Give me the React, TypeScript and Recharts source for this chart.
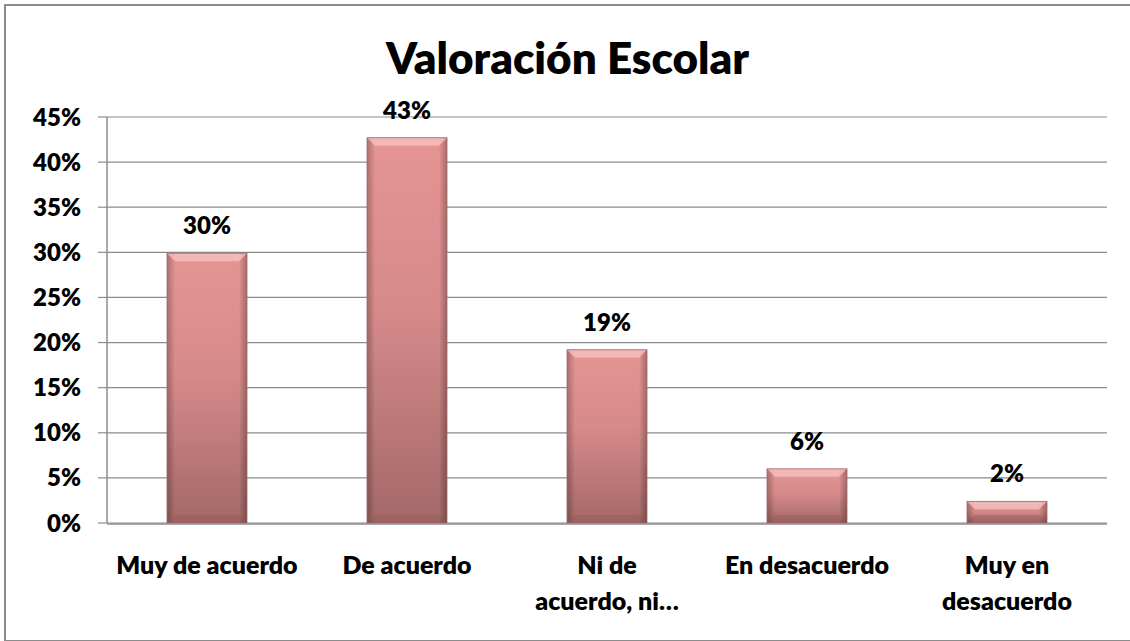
import { BarChart, Bar, XAxis, YAxis, CartesianGrid, LabelList } from 'recharts';

const categories = ['Muy de acuerdo', 'De acuerdo', 'Ni de acuerdo, ni en desacuerdo', 'En desacuerdo', 'Muy en desacuerdo'];
const tickLines = [['Muy de acuerdo'], ['De acuerdo'], ['Ni de', 'acuerdo, ni…'], ['En desacuerdo'], ['Muy en', 'desacuerdo']];
const values = [29.9, 42.7, 19.2, 6.0, 2.4];
const yTicks = [0, 5, 10, 15, 20, 25, 30, 35, 40, 45];
const edgeTicks = [0, 1, 2, 3, 4, 5];

const data = categories.map((name, i) => ({ name, idx: i, value: values[i] }));

const FONT = 'Lato, "Open Sans", sans-serif';
const GRID = '#8c8c8c';

const CategoryTick = (props: any) => {
  const { x, y, payload } = props;
  const lines = tickLines[payload.index] ?? [payload.value];
  return (
    <g>
      {lines.map((line: string, i: number) => (
        <text
          key={i}
          x={x}
          y={y + 51 + i * 36}
          textAnchor="middle"
          fill="#000"
          fontFamily={FONT}
          fontWeight={800}
          fontSize={25}
        >
          {line}
        </text>
      ))}
    </g>
  );
};

const BevelBar = (props: any) => {
  const { x, y, width, height, index } = props;
  if (!height || height <= 0) return null;
  const b = Math.min(8, height / 2);
  const vId = `vg-${index}`;
  const hId = `hg-${index}`;
  return (
    <g>
      <defs>
        <linearGradient id={vId} x1="0" y1="0" x2="0" y2="1">
          <stop offset="0%" stopColor="#e69494" />
          <stop offset="45%" stopColor="#d68a8a" />
          <stop offset="100%" stopColor="#a46868" />
        </linearGradient>
        <linearGradient id={hId} x1="0" y1="0" x2="1" y2="0">
          <stop offset="0%" stopColor="#000" stopOpacity={0.25} />
          <stop offset="10%" stopColor="#000" stopOpacity={0} />
          <stop offset="90%" stopColor="#000" stopOpacity={0} />
          <stop offset="100%" stopColor="#000" stopOpacity={0.28} />
        </linearGradient>
      </defs>
      <rect x={x} y={y} width={width} height={height} fill={`url(#${vId})`} />
      <rect x={x} y={y} width={width} height={height} fill={`url(#${hId})`} />
      <polygon
        points={`${x},${y} ${x + width},${y} ${x + width - b},${y + b} ${x + b},${y + b}`}
        fill="#f7c3c3"
        opacity={0.75}
      />
      <polygon
        points={`${x},${y + height} ${x + width},${y + height} ${x + width - b},${y + height - b} ${x + b},${y + height - b}`}
        fill="#8e5656"
        opacity={0.35}
      />
      <rect x={x} y={y} width={width} height={height} fill="none" stroke="#a46666" strokeWidth={0.8} />
    </g>
  );
};

export default function App() {
  return (
    <div style={{ position: 'absolute', left: 0, top: 0, width: 1130, height: 641, background: '#fff', overflow: 'hidden' }}>
      <div
        style={{
          position: 'absolute',
          left: 4,
          top: 4,
          width: 1160,
          height: 638,
          border: '2px solid #8c8c8c',
          boxSizing: 'border-box',
        }}
      />
      <div
        style={{
          position: 'absolute',
          left: 0,
          top: 29,
          width: 1135,
          textAlign: 'center',
          fontFamily: FONT,
          fontWeight: 800,
          fontSize: 44,
          lineHeight: '56px',
          color: '#000',
        }}
      >
        Valoración Escolar
      </div>
      <div style={{ position: 'absolute', left: 0, top: 0 }}>
        <BarChart
          width={1130}
          height={641}
          data={data}
          margin={{ top: 117, right: 23, bottom: 116, left: 0 }}
          barCategoryGap="30%"
        >
          <CartesianGrid vertical={false} stroke={GRID} strokeWidth={1.2} />
          <XAxis
            dataKey="name"
            height={1}
            axisLine={false}
            tickLine={false}
            tickSize={0}
            tickMargin={0}
            interval={0}
            tick={<CategoryTick />}
          />
          <XAxis
            xAxisId="edge"
            type="number"
            domain={[0, 5]}
            ticks={edgeTicks}
            height={1}
            tick={false}
            tickSize={9}
            axisLine={{ stroke: GRID, strokeWidth: 1.5 }}
            tickLine={{ stroke: GRID, strokeWidth: 1.5 }}
          />
          <YAxis
            width={107}
            domain={[0, 45]}
            ticks={yTicks}
            interval={0}
            tickFormatter={(v: number) => `${v}%`}
            tickSize={9}
            tickMargin={17}
            axisLine={{ stroke: GRID, strokeWidth: 1.5 }}
            tickLine={{ stroke: GRID, strokeWidth: 1.2 }}
            tick={{ fill: '#000', fontFamily: FONT, fontWeight: 800, fontSize: 24 }}
          />
          <Bar dataKey="value" shape={<BevelBar />} isAnimationActive={false}>
            <LabelList
              dataKey="value"
              position="top"
              offset={19}
              formatter={(v: number) => `${Math.round(v)}%`}
              style={{ fill: '#000', fontFamily: FONT, fontWeight: 800, fontSize: 24 }}
            />
          </Bar>
        </BarChart>
      </div>
    </div>
  );
}
